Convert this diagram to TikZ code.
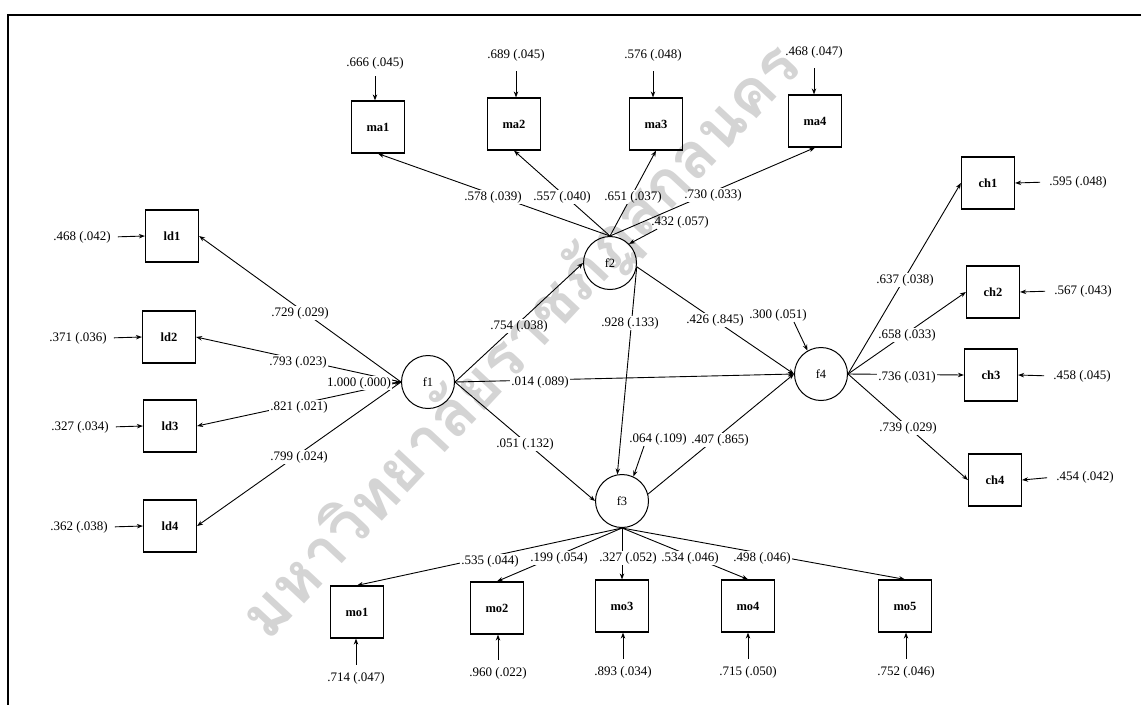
\documentclass[tikz,border=0pt]{standalone}
\usepackage{fontspec}
\setmainfont{Liberation Serif}
\newfontfamily\thaifont[Script=Thai]{Loma}
\usetikzlibrary{arrows.meta}
\begin{document}
\begin{tikzpicture}[x=1pt,y=-1pt,
  obs/.style={draw, line width=1.2pt, minimum width=53pt, minimum height=52pt, inner sep=0pt, font=\fontsize{12.5}{14}\selectfont\bfseries},
  lat/.style={draw, circle, line width=1pt, minimum size=53pt, inner sep=0pt, font=\fontsize{12.5}{14}\selectfont},
  lbl/.style={fill=white, inner sep=1pt, font=\fontsize{13}{15}\selectfont},
  txt/.style={inner sep=1pt, font=\fontsize{13}{15}\selectfont},
  arr/.style={-{Stealth[length=6pt,width=4.5pt]}, line width=0.9pt},
]
\useasboundingbox (0,0) rectangle (1147,715);
\fill[white] (0,0) rectangle (1147,715);
% frame
\draw[line width=2.5pt] (1141,15) -- (8,15) -- (8,705);

% latent variables
\node[lat] (f1) at (428,382) {f1};
\node[lat] (f2) at (610,263) {f2};
\node[lat] (f3) at (622,501) {f3};
\node[lat] (f4) at (821,374) {f4};

% observed variables
\node[obs] (ld1) at (172,236) {ld1};
\node[obs] (ld2) at (169,337) {ld2};
\node[obs] (ld3) at (170,426) {ld3};
\node[obs] (ld4) at (170,526) {ld4};
\node[obs] (ma1) at (378,127) {ma1};
\node[obs] (ma2) at (514,124) {ma2};
\node[obs] (ma3) at (656,124) {ma3};
\node[obs] (ma4) at (815,121) {ma4};
\node[obs] (ch1) at (988,183) {ch1};
\node[obs] (ch2) at (993,292) {ch2};
\node[obs] (ch3) at (991,375) {ch3};
\node[obs] (ch4) at (995,480) {ch4};
\node[obs] (mo1) at (357,612) {mo1};
\node[obs] (mo2) at (497,608) {mo2};
\node[obs] (mo3) at (622,606) {mo3};
\node[obs] (mo4) at (748,606) {mo4};
\node[obs] (mo5) at (905,606) {mo5};

% loadings
\foreach \b in {ld1,ld2,ld3,ld4} \draw[arr] (f1.west) -- (\b.east);
\foreach \b in {ma1,ma2,ma3,ma4} \draw[arr] (f2.north) -- (\b.south);
\foreach \b in {ch1,ch2,ch3,ch4} \draw[arr] (f4.east) -- (\b.west);
\foreach \b in {mo1,mo2,mo3,mo4,mo5} \draw[arr] (f3.south) -- (\b.north);

% structural paths
\draw[arr] (f1.east) -- (f2.west);
\draw[arr] (f1.east) -- (f4.west);
\draw[arr] (f1.east) -- (f3.west);
\draw[arr] (f2.-8) -- (f3.100);
\draw[arr] (f2.-8) -- (f4.west);
\draw[arr] (f3.15) -- (f4.west);

% path labels
\node[lbl] (l729) at (300,313) {.729 (.029)};
\node[lbl] (l793) at (298,362) {.793 (.023)};
\node[lbl] (l821) at (299,407) {.821 (.021)};
\node[lbl] (l799) at (299,457) {.799 (.024)};
\node[lbl] (l1000) at (359,383) {1.000 (.000)};
\draw[arr] (l1000.east) -- (f1.west);
\node[lbl] (l754) at (519,326) {.754 (.038)};
\node[lbl] (l014) at (540,382) {.014 (.089)};
\node[lbl] (l051) at (525,444) {.051 (.132)};
\node[lbl] (l578) at (493,197) {.578 (.039)};
\node[lbl] (l557) at (562,197) {.557 (.040)};
\node[lbl] (l651) at (633,197) {.651 (.037)};
\node[lbl] (l730) at (713,195) {.730 (.033)};
\node[txt] (l432) at (680,222) {.432 (.057)};
\draw[arr] ([xshift=7pt]l432.south west) -- (f2.45);
\node[lbl] (l928) at (630,323) {.928 (.133)};
\node[lbl] (l426) at (715,320) {.426 (.845)};
\node[txt] (l300) at (778,315) {.300 (.051)};
\draw[arr] ([xshift=16pt]l300.south) -- (f4.120);
\node[txt] (l064) at (658,439) {.064 (.109)};
\draw[arr] ([xshift=-14pt]l064.south) -- (f3.65);
\node[lbl] (l407) at (720,440) {.407 (.865)};
\node[lbl] (l637) at (905,280) {.637 (.038)};
\node[lbl] (l658) at (907,335) {.658 (.033)};
\node[lbl] (l736) at (907,377) {.736 (.031)};
\node[lbl] (l739) at (908,428) {.739 (.029)};
\node[lbl] (l535) at (490,561) {.535 (.044)};
\node[lbl] (l199) at (559,558) {.199 (.054)};
\node[lbl] (l327) at (628,558) {.327 (.052)};
\node[lbl] (l534) at (690,558) {.534 (.046)};
\node[lbl] (l498) at (762,558) {.498 (.046)};

% error variances
\node[txt] (e1) at (82,237) {.468 (.042)};
\node[txt] (e2) at (78,338) {.371 (.036)};
\node[txt] (e3) at (80,427) {.327 (.034)};
\node[txt] (e4) at (79,527) {.362 (.038)};
\draw[arr, shorten <=6pt] (e1.east) -- (ld1.west);
\draw[arr, shorten <=6pt] (e2.east) -- (ld2.west);
\draw[arr, shorten <=6pt] (e3.east) -- (ld3.west);
\draw[arr, shorten <=6pt] (e4.east) -- (ld4.west);

\node[txt] (v1) at (375,63) {.666 (.045)};
\node[txt] (v2) at (516,55) {.689 (.045)};
\node[txt] (v3) at (653,55) {.576 (.048)};
\node[txt] (v4) at (814,52) {.468 (.047)};
\draw[arr, shorten <=6pt] (v1.south) -- (v1.south |- ma1.north);
\draw[arr, shorten <=9pt] (v2.south) -- (v2.south |- ma2.north);
\draw[arr, shorten <=9pt] (v3.south) -- (v3.south |- ma3.north);
\draw[arr, shorten <=9pt] (v4.south) -- (v4.south |- ma4.north);

\node[txt] (c1) at (1078,182) {.595 (.048)};
\node[txt] (c2) at (1083,291) {.567 (.043)};
\node[txt] (c3) at (1082,376) {.458 (.045)};
\node[txt] (c4) at (1085,477) {.454 (.042)};
\draw[arr, shorten <=8pt] (c1.west) -- (ch1.east);
\draw[arr, shorten <=8pt] (c2.west) -- (ch2.east);
\draw[arr, shorten <=8pt] (c3.west) -- (ch3.east);
\draw[arr, shorten <=8pt] (c4.west) -- (ch4.east);

\node[txt] (w1) at (356,678) {.714 (.047)};
\node[txt] (w2) at (498,673) {.960 (.022)};
\node[txt] (w3) at (623,672) {.893 (.034)};
\node[txt] (w4) at (748,672) {.715 (.050)};
\node[txt] (w5) at (906,672) {.752 (.046)};
\draw[arr, shorten <=6pt] (w1.north) -- (w1.north |- mo1.south);
\draw[arr, shorten <=6pt] (w2.north) -- (w2.north |- mo2.south);
\draw[arr, shorten <=6pt] (w3.north) -- (w3.north |- mo3.south);
\draw[arr, shorten <=6pt] (w4.north) -- (w4.north |- mo4.south);
\draw[arr, shorten <=6pt] (w5.north) -- (w5.north |- mo5.south);

% watermark
\node[rotate=47, text=black, text opacity=0.17, inner sep=0pt,
      font=\thaifont\bfseries\fontsize{64}{72}\selectfont] (wm) at (522,342) {มหาวิทยาลัยราชภัฏสกลนคร};
\end{tikzpicture}
\end{document}
